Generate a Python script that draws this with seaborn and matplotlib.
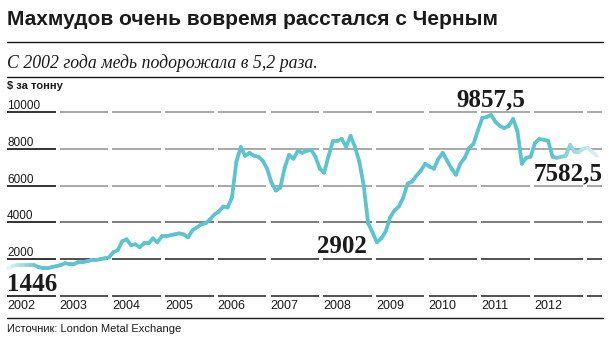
import numpy as np
import pandas as pd
import matplotlib
matplotlib.use("Agg")
import matplotlib.pyplot as plt
import seaborn as sns
from matplotlib.collections import LineCollection
from matplotlib.lines import Line2D
import matplotlib.colors as mcolors

# ---------------- data ----------------
year_labels = ["2002", "2003", "2004", "2005", "2006", "2007",
               "2008", "2009", "2010", "2011", "2012"]
months = pd.date_range("2002-01-01", periods=135, freq="MS")
price = [
    1520, 1620, 1680, 1680, 1680, 1680, 1680, 1570, 1510, 1510, 1570, 1620,   # 2002
    1680, 1780, 1730, 1730, 1840, 1840, 1890, 1950, 1950, 2000, 2050, 2100,   # 2003
    2380, 2490, 2970, 3080, 2760, 2810, 2650, 2860, 2860, 3130, 2920, 3240,   # 2004
    3240, 3300, 3350, 3400, 3350, 3190, 3570, 3730, 3890, 3950, 4160, 4430,   # 2005
    4590, 4860, 4810, 5350, 7300, 8100, 7620, 7780, 7620, 7570, 7350, 6920,   # 2006
    6160, 5730, 5890, 6970, 7670, 7460, 7890, 7780, 7890, 7950, 7570, 6920,   # 2007
    6700, 7620, 8430, 8430, 8540, 8110, 8700, 8110, 7300, 6000, 3950, 3460,   # 2008
    2920, 3130, 3510, 4270, 4650, 4860, 5350, 6110, 6220, 6540, 6810, 7190,   # 2009
    7030, 6920, 7460, 7780, 7350, 6920, 6590, 7190, 7510, 8050, 8270, 9000,   # 2010
    9670, 9730, 9840, 9460, 9240, 9130, 9240, 9620, 8970, 7190, 7510, 7570,   # 2011
    8320, 8540, 8490, 8430, 7570, 7510, 7570, 7620, 8220, 7840, 7840, 8000,   # 2012
    8050, 7840, 7620,                                                         # 2013
]
yticks = [2000, 4000, 6000, 8000, 10000]
ytick_labels = ["2000", "4000", "6000", "8000", "10000"]
callouts = ["1446", "2902", "9857,5", "7582,5"]

title = "Махмудов очень вовремя расстался с Черным"
subtitle = "С 2002 года медь подорожала в 5,2 раза."
unit = "$ за тонну"
source = "Источник: London Metal Exchange"

# ---------------- geometry ----------------
W, H = 610, 339
PX_YEAR = 52.7
X_ORIGIN = 8
Y_ZERO = 296
VAL_PER_PX = 54.35

def px2x(px):
    return 2002 + (px - X_ORIGIN) / PX_YEAR

def py2v(py):
    return (Y_ZERO - py) * VAL_PER_PX

def fx(px):
    return px / W

def fy(py):
    return 1 - py / H

LINE_C = "#5BC4CF"
INK = "#1a1a1a"

sns.set_theme(style="white")
plt.rcParams["font.family"] = ["Liberation Sans", "DejaVu Sans"]

fig = plt.figure(figsize=(W / 100, H / 100), dpi=100)
ax = fig.add_axes([0, 0, 1, 1])
ax.set_xlim(px2x(0), px2x(W))
ax.set_ylim(py2v(H), py2v(0))
ax.axis("off")

# segmented grid (one segment per year column)
col_starts = [2002 + k for k in range(12)]
for v in [0] + yticks:
    for k, ys in enumerate(col_starts):
        x0 = ys - 1 / PX_YEAR
        x1 = ys + 47.5 / PX_YEAR
        if k == len(col_starts) - 1:
            x1 = px2x(602)
        if k == 0:
            col = "#111111"
        elif v <= 2000:
            col = "#333333"
        elif v == 4000:
            col = "#666666"
        else:
            col = "#9a9a9a"
        ax.hlines(v, x0, x1, color=col, lw=1.2, zorder=1)

# price line via seaborn
xs = months.year + (months.month - 1) / 12.0
df = pd.DataFrame({"x": xs, "price": price})
sns.lineplot(data=df, x="x", y="price", ax=ax, color=LINE_C, lw=2.7)
ln = ax.lines[-1]
pts = ln.get_xydata()
ln.remove()

# faded ends (style only)
base = np.array(mcolors.to_rgb(LINE_C))
segs, cols = [], []
for i in range(len(pts) - 1):
    xm = (pts[i, 0] + pts[i + 1, 0]) / 2
    a = min(1.0, 0.15 + (xm - 2002) / 0.7)
    a = min(a, 1.0 - 0.8 * np.clip((xm - 2012.35) / 0.85, 0, 1))
    a = max(a, 0.15)
    segs.append(pts[i:i + 2])
    cols.append(tuple(1 - a * (1 - base)))
lc = LineCollection(segs, colors=cols, linewidths=2.7, capstyle="round",
                    joinstyle="round", zorder=3)
ax.add_collection(lc)

# y tick labels
for v, lab in zip(yticks, ytick_labels):
    ax.text(px2x(7), v + 3 * VAL_PER_PX, lab, fontsize=8.5, color=INK,
            ha="left", va="baseline")

# year labels
for k, lab in enumerate(year_labels):
    ax.text(2002 + k - 1 / PX_YEAR, py2v(309), lab, fontsize=9, color=INK,
            ha="left", va="baseline")

# callouts
serif_b = dict(family=["Liberation Serif", "DejaVu Serif"], weight="bold",
               fontsize=18, color=INK, va="baseline")
ax.text(px2x(7), py2v(291), callouts[0], ha="left", **serif_b)
ax.text(px2x(367), py2v(253), callouts[1], ha="right", **serif_b)
ax.text(px2x(491), py2v(106), callouts[2], ha="center", **serif_b)
ax.text(px2x(603), py2v(180), callouts[3], ha="right", **serif_b)

# header / footer
fig.text(fx(7), fy(25), title, fontsize=15, weight="bold", color=INK,
         ha="left", va="baseline")
fig.add_artist(Line2D([fx(7), fx(603)], [fy(42), fy(42)], color=INK, lw=1.0))
fig.text(fx(7), fy(68), subtitle, fontsize=12.8, style="italic", color=INK,
         family=["Liberation Serif", "DejaVu Serif"], ha="left", va="baseline")
fig.add_artist(Line2D([fx(7), fx(603)], [fy(77), fy(77)], color=INK, lw=1.0))
fig.text(fx(7), fy(89), unit, fontsize=8, weight="bold", color=INK,
         ha="left", va="baseline")
fig.add_artist(Line2D([fx(7), fx(603)], [fy(318), fy(318)], color=INK, lw=1.0))
fig.text(fx(7), fy(332), source, fontsize=8, color=INK, ha="left",
         va="baseline")

fig.savefig("out.png", dpi=100)
